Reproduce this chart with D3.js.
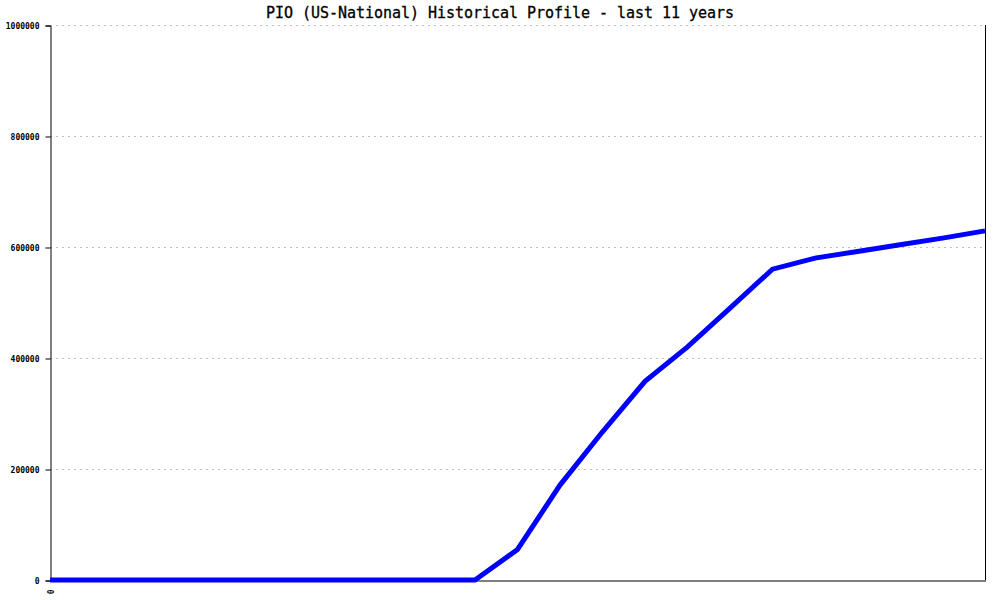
<!DOCTYPE html>
<html><head><meta charset="utf-8">
<script src="https://cdn.jsdelivr.net/npm/d3@7"></script>
<style>body{margin:0;background:#fff}</style>
</head><body>
<svg id="c" width="1000" height="600"></svg>
<script>
const title = "PIO (US-National) Historical Profile - last 11 years";
const xIndex = d3.range(23);
const values = [0,0,0,0,0,0,0,0,0,0,0,55000,171000,267000,358000,420000,490000,560000,580000,592000,604000,616000,629000];
const yTicks = [0,200000,400000,600000,800000,1000000];
const xTickLabels = ["0"];

const svg = d3.select("#c");
const L=50,R=985,T=25,B=580;
const x = d3.scaleLinear().domain([0,22]).range([L,R]);
const y = d3.scaleLinear().domain([0,1000000]).range([B,T]);

// grid
svg.append("g").selectAll("line").data(yTicks.filter(d=>d>0)).join("line")
  .attr("x1",L).attr("x2",R).attr("y1",d=>y(d)+0.5).attr("y2",d=>y(d)+0.5)
  .attr("stroke","#c0c0c0").attr("stroke-dasharray","2,4").attr("stroke-width",1);

// y axis
const ya = d3.axisLeft(y).tickValues(yTicks).tickSize(5).tickFormat(d3.format("d"));
const gy = svg.append("g").attr("transform",`translate(${L+0.5},0.5)`).call(ya);
gy.select(".domain").attr("stroke","#000");
gy.selectAll("text").attr("font-family","DejaVu Sans Mono").attr("font-size",8).attr("font-weight","bold").attr("dx",-3);
// right axis line
svg.append("line").attr("x1",R+0.5).attr("x2",R+0.5).attr("y1",T).attr("y2",B).attr("stroke","#000");
// bottom axis
const xa = d3.axisBottom(x).tickValues([0]).tickSize(0).tickFormat((d,i)=>xTickLabels[i]);
const gx = svg.append("g").attr("transform",`translate(0.5,${B+0.5})`).call(xa);
gx.select(".domain").attr("stroke","#000");
gx.selectAll("text").attr("font-family","DejaVu Sans Mono").attr("font-size",8).attr("font-weight","bold")
  .attr("transform","rotate(-90)").attr("text-anchor","end").attr("x",-9).attr("y",0).attr("dy","0.32em");

// line
svg.append("path").datum(values).attr("fill","none").attr("stroke","#0000ff").attr("stroke-width",5)
  .attr("d",d3.line().x((d,i)=>x(xIndex[i])).y(d=>y(d)));

// title
svg.append("text").attr("x",500).attr("y",18).attr("text-anchor","middle")
  .attr("font-family","DejaVu Sans Mono").attr("font-size",15).attr("textLength",468)
  .attr("stroke","#000").attr("stroke-width",0.3)
  .text(title);
</script>
</body></html>
